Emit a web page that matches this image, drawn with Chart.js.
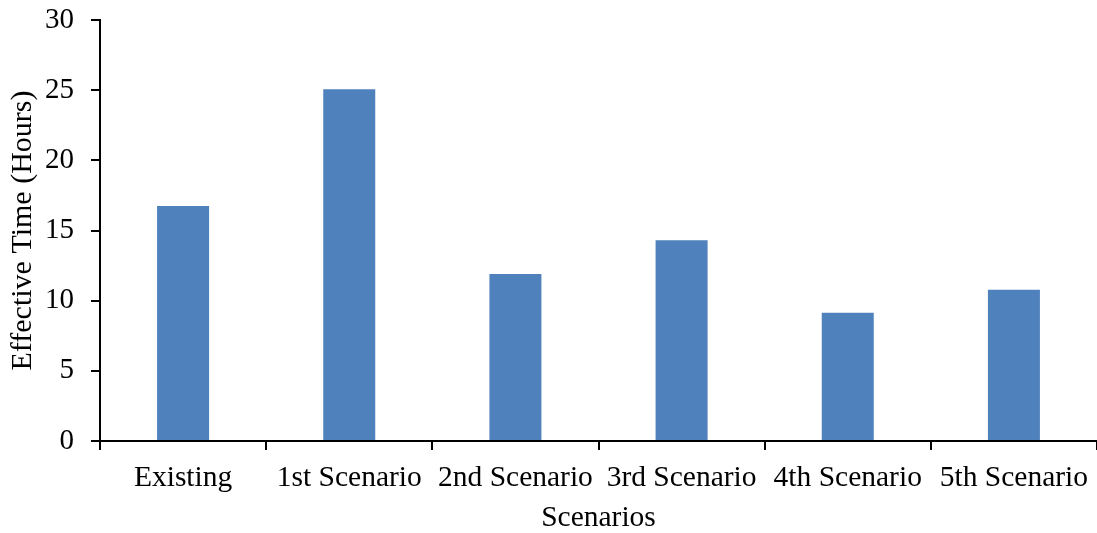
<!DOCTYPE html>
<html>
<head>
<meta charset="utf-8">
<script src="https://cdn.jsdelivr.net/npm/chart.js@4/dist/chart.umd.min.js"></script>
<style>
  html, body { margin: 0; padding: 0; background: #ffffff; }
  #wrap { width: 1097px; height: 533px; position: relative; }
</style>
</head>
<body>
<div id="wrap"><canvas id="chart" width="1097" height="533"></canvas></div>
<script>
const categories = ['Existing', '1st Scenario', '2nd Scenario', '3rd Scenario', '4th Scenario', '5th Scenario'];
const effectiveHours = [16.75, 25.07, 11.9, 14.3, 9.14, 10.78];
const yTicks = [0, 5, 10, 15, 20, 25, 30];

const FONT = '"Liberation Serif", "Times New Roman", serif';
const INK = '#000000';

new Chart(document.getElementById('chart'), {
  type: 'bar',
  data: {
    labels: categories,
    datasets: [{
      label: 'Effective Time (Hours)',
      data: effectiveHours,
      backgroundColor: '#4F81BD',
      borderWidth: 0,
      barPercentage: 0.313,
      categoryPercentage: 1.0
    }]
  },
  options: {
    responsive: false,
    animation: false,
    devicePixelRatio: 1,
    layout: { padding: { top: 20, right: 0, left: 0, bottom: 0 } },
    plugins: { legend: { display: false }, tooltip: { enabled: false } },
    scales: {
      x: {
        offset: true,
        grid: {
          display: true, offset: true, drawOnChartArea: false,
          color: INK, lineWidth: 2, tickLength: 9, tickWidth: 2
        },
        border: { display: true, color: INK, width: 2 },
        ticks: { color: INK, font: { family: FONT, size: 29.5 }, padding: 11, maxRotation: 0, autoSkip: false },
        title: { display: true, text: 'Scenarios', color: INK, font: { family: FONT, size: 29.5, lineHeight: 1 }, padding: { top: 0, bottom: 0 } },
        afterFit: (s) => { s.height = 92; s.paddingLeft = 0; s.paddingRight = 0; }
      },
      y: {
        min: 0, max: 30,
        afterBuildTicks: (s) => { s.ticks = yTicks.map(v => ({ value: v })); },
        grid: {
          display: true, drawOnChartArea: false,
          color: INK, lineWidth: 2, tickLength: 9, tickWidth: 2
        },
        border: { display: true, color: INK, width: 2 },
        ticks: { color: INK, font: { family: FONT, size: 29 }, padding: 17 },
        title: { display: true, text: 'Effective Time (Hours)', color: INK, font: { family: FONT, size: 30 }, padding: { top: 5, bottom: 0 } },
        afterFit: (s) => { s.width = 100; s.paddingTop = 0; s.paddingBottom = 0; }
      }
    }
  }
});
</script>
</body>
</html>
